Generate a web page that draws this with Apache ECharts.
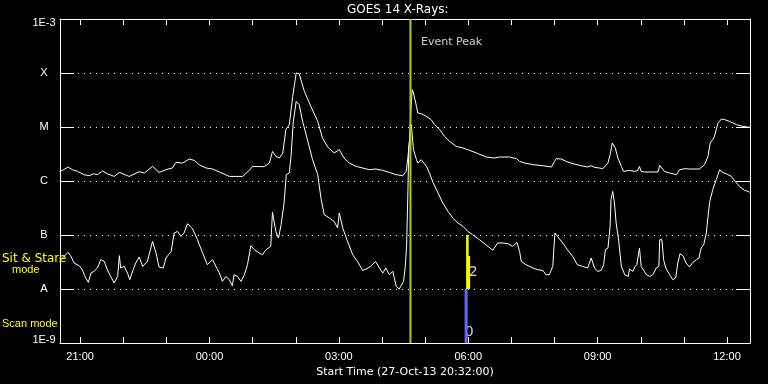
<!DOCTYPE html>
<html><head><meta charset="utf-8">
<script src="https://cdn.jsdelivr.net/npm/echarts@6/dist/echarts.min.js"></script>
<style>html,body{margin:0;padding:0;background:#000;}#c{width:768px;height:384px;}</style>
</head><body><div id="c"></div>
<script>
// Time in hours since 27-Oct-13 00:00 (values > 24 are 28-Oct)
const startHour = 20 + 32 / 60;
const endHour = startHour + 16;
const hourTicks = [21,22,23,24,25,26,27,28,29,30,31,32,33,34,35,36];
const hourLabels = [21,24,27,30,33,36];
// Flux as log10(W/m^2)
const levelTicks = [-9,-8,-7,-6,-5,-4,-3];
const levelNames = ['1E-9','A','B','C','M','X','1E-3'];

// GOES 14 long channel (1-8 A)
const longHours = [20.52,20.59,20.72,20.82,20.94,21.09,21.21,21.32,21.40,21.52,
21.63,21.79,21.91,22.02,22.14,22.37,22.49,22.68,22.83,22.99,
23.14,23.22,23.38,23.53,23.65,23.76,23.92,24.07,24.23,24.46,
24.77,24.92,25.00,25.27,25.39,25.46,25.54,25.62,25.70,25.77,
25.85,25.93,26.01,26.08,26.20,26.35,26.51,26.62,26.74,26.89,
27.01,27.12,27.24,27.40,27.55,27.71,27.86,28.02,28.17,28.33,
28.48,28.56,28.60,28.64,28.67,28.70,28.73,28.80,28.83,28.91,
29.03,29.14,29.22,29.34,29.45,29.57,29.72,29.88,30.03,30.19,
30.42,30.61,30.73,30.96,31.12,31.19,31.31,31.50,31.73,31.93,
32.00,32.04,32.16,32.27,32.43,32.62,32.77,32.85,32.93,33.04,
33.12,33.24,33.29,33.34,33.37,33.41,33.47,33.55,33.60,33.74,
33.86,33.93,33.97,34.01,34.09,34.40,34.44,34.48,34.55,34.67,
34.83,34.90,35.02,35.13,35.36,35.48,35.56,35.61,35.67,35.71,
35.79,35.87,35.95,36.06,36.22,36.37,36.53];
const longLogFlux = [-5.822,-5.804,-5.741,-5.791,-5.822,-5.883,-5.902,-5.865,-5.883,-5.815,
-5.865,-5.915,-5.841,-5.878,-5.915,-5.828,-5.852,-5.730,-5.841,-5.791,
-5.759,-5.656,-5.667,-5.593,-5.619,-5.698,-5.759,-5.778,-5.833,-5.915,
-5.915,-5.804,-5.730,-5.735,-5.667,-5.452,-5.544,-5.574,-5.481,-5.050,
-4.957,-4.433,-4.000,-4.013,-4.341,-4.618,-4.896,-5.204,-5.370,-5.481,
-5.420,-5.574,-5.667,-5.730,-5.759,-5.791,-5.778,-5.804,-5.841,-5.883,
-5.902,-5.822,-5.568,-5.235,-4.680,-4.309,-4.370,-4.618,-4.741,-4.754,
-4.804,-4.865,-4.957,-5.050,-5.174,-5.267,-5.359,-5.389,-5.433,-5.481,
-5.556,-5.574,-5.556,-5.556,-5.587,-5.637,-5.667,-5.698,-5.717,-5.741,
-5.637,-5.587,-5.593,-5.637,-5.680,-5.717,-5.741,-5.717,-5.748,-5.759,
-5.772,-5.667,-5.513,-5.296,-5.285,-5.389,-5.574,-5.730,-5.822,-5.804,
-5.822,-5.804,-5.730,-5.822,-5.833,-5.833,-5.711,-5.698,-5.822,-5.852,
-5.883,-5.791,-5.772,-5.778,-5.778,-5.698,-5.544,-5.296,-5.235,-5.174,
-4.926,-4.852,-4.865,-4.896,-4.957,-4.989,-5.007];

// GOES 14 short channel (0.5-4 A)
const shortHours = [20.52,20.59,20.72,20.78,20.86,20.98,21.05,21.13,21.19,21.25,
21.32,21.40,21.48,21.56,21.63,21.71,21.79,21.87,21.91,21.94,
22.02,22.10,22.15,22.23,22.29,22.37,22.45,22.56,22.68,22.76,
22.83,22.93,22.99,23.11,23.18,23.26,23.34,23.41,23.49,23.61,
23.72,23.84,23.95,24.07,24.15,24.23,24.30,24.38,24.46,24.53,
24.57,24.65,24.73,24.81,24.88,24.96,25.04,25.15,25.23,25.31,
25.42,25.46,25.54,25.60,25.66,25.73,25.78,25.85,25.89,25.94,
26.01,26.08,26.16,26.27,26.39,26.51,26.59,26.66,26.78,26.89,
26.97,27.01,27.09,27.20,27.32,27.43,27.55,27.63,27.74,27.85,
27.94,28.02,28.09,28.17,28.25,28.33,28.40,28.50,28.54,28.57,
28.60,28.62,28.66,28.68,28.73,28.80,28.83,28.91,29.03,29.10,
29.18,29.30,29.41,29.53,29.64,29.76,29.88,29.99,30.10,30.26,
30.41,30.57,30.68,30.72,30.80,30.92,31.03,31.13,31.19,31.23,
31.34,31.50,31.61,31.73,31.80,31.88,31.96,32.01,32.07,32.19,
32.30,32.42,32.53,32.65,32.77,32.85,32.93,33.00,33.08,33.14,
33.18,33.24,33.29,33.31,33.35,33.39,33.43,33.49,33.55,33.63,
33.71,33.74,33.82,33.86,33.91,33.97,34.01,34.07,34.13,34.21,
34.24,34.28,34.36,34.42,34.44,34.49,34.53,34.58,34.67,34.74,
34.81,34.86,34.91,34.98,35.05,35.13,35.21,35.29,35.35,35.40,
35.46,35.52,35.56,35.60,35.67,35.75,35.83,35.90,35.98,36.02,
36.10,36.22,36.33,36.41,36.49,36.53];
const shortLogFlux = [-7.489,-7.426,-7.322,-7.383,-7.519,-7.569,-7.643,-7.796,-7.878,-7.704,
-7.674,-7.611,-7.457,-7.489,-7.643,-7.767,-7.889,-7.767,-7.383,-7.611,
-7.581,-7.704,-7.828,-7.643,-7.519,-7.407,-7.581,-7.489,-7.118,-7.333,
-7.593,-7.611,-7.426,-7.304,-6.963,-6.933,-7.026,-6.963,-6.791,-6.889,
-7.087,-7.333,-7.550,-7.457,-7.581,-7.704,-7.859,-7.767,-7.828,-7.939,
-7.735,-7.767,-7.859,-7.735,-7.550,-7.198,-7.272,-7.333,-7.365,-7.272,
-7.211,-6.581,-6.939,-7.056,-6.809,-6.407,-5.883,-5.852,-5.544,-4.926,
-4.526,-4.587,-4.896,-5.235,-5.605,-5.883,-6.346,-6.624,-6.685,-6.748,
-6.870,-6.593,-6.870,-7.118,-7.365,-7.489,-7.656,-7.630,-7.581,-7.489,
-7.611,-7.704,-7.611,-7.735,-7.674,-7.952,-8.000,-7.859,-7.581,-7.211,
-6.222,-5.420,-5.013,-4.957,-5.420,-5.605,-5.667,-5.605,-5.730,-5.852,
-6.022,-6.222,-6.407,-6.563,-6.685,-6.778,-6.841,-6.933,-6.994,-7.087,
-7.180,-7.281,-7.148,-7.118,-7.148,-7.161,-7.211,-7.137,-7.304,-7.489,
-7.550,-7.611,-7.643,-7.656,-7.735,-7.735,-7.581,-6.963,-7.026,-7.148,
-7.272,-7.396,-7.550,-7.581,-7.611,-7.426,-7.611,-7.674,-7.656,-7.550,
-7.272,-7.241,-6.841,-6.346,-6.193,-6.407,-6.778,-7.118,-7.581,-7.735,
-7.767,-7.630,-7.674,-7.593,-7.550,-7.241,-7.581,-7.656,-7.735,-7.767,
-7.796,-7.735,-7.611,-7.581,-7.087,-7.087,-7.457,-7.611,-7.735,-7.828,
-7.796,-7.519,-7.346,-7.383,-7.519,-7.593,-7.507,-7.457,-7.426,-7.241,
-7.180,-6.963,-6.656,-6.378,-6.161,-5.976,-5.791,-5.841,-5.865,-5.841,
-5.915,-6.037,-6.130,-6.174,-6.193,-6.211];

const eventPeakHour = 28.66;
// instrument mode markers: [hour, fromLevel, toLevel]
const sitStareBar = [29.98, -8, -7];
const sitStareBar2 = [30.02, -8, -7.39];
const scanBar = [29.95, -9, -8];
const annotations = [
  {name: 'Event Peak', value: [28.906, -3.433]},
  {name: '2', value: [30.116, -7.683]},
  {name: '0', value: [30.023, -8.80]}
];
const modeTexts = [
  {text: 'Sit & Stare', level: -7.444, indent: 0, font: 'DejaVu Sans', size: 12},
  {text: 'mode', level: -7.656, indent: 10, font: 'Liberation Sans', size: 11},
  {text: 'Scan mode', level: -8.643, indent: 0, font: 'Liberation Sans', size: 11}
];

const pairs = (xs, ys) => xs.map((x, i) => [x, ys[i]]);
const vbar = b => [[b[0], b[1]], [b[0], b[2]]];
const hh = v => String(Math.round(v) % 24).padStart(2, '0') + ':00';

const chart = echarts.init(document.getElementById('c'), null, {renderer: 'canvas'});
const white = '#ffffff';
const lineSeries = (data, color, width) => ({
  type: 'line', data, showSymbol: false, symbol: 'none', animation: false, silent: true,
  lineStyle: {color, width}, xAxisIndex: 0, yAxisIndex: 0
});

chart.setOption({
  backgroundColor: '#000000',
  animation: false,
  title: {
    text: 'GOES 14 X-Rays:', left: 347, top: 4, padding: 0,
    textStyle: {color: white, fontFamily: 'DejaVu Sans', fontSize: 12, fontWeight: 'normal'}
  },
  grid: {left: 60, right: 18, top: 19, bottom: 41, containLabel: false},
  xAxis: [{
    type: 'value', min: startHour, max: endHour, position: 'bottom',
    axisLine: {show: true, onZero: false, lineStyle: {color: white, width: 1}},
    axisTick: {show: true, inside: true, length: 6, customValues: hourTicks, lineStyle: {color: white}},
    axisLabel: {show: true, customValues: hourLabels, formatter: hh, color: white,
      fontFamily: 'Liberation Sans', fontSize: 11, margin: 8},
    splitLine: {show: false},
    name: 'Start Time (27-Oct-13 20:32:00)', nameLocation: 'middle', nameGap: 20,
    nameTextStyle: {color: white, fontFamily: 'DejaVu Sans', fontSize: 11}
  }, {
    type: 'value', min: startHour, max: endHour, position: 'top',
    axisLine: {show: true, onZero: false, lineStyle: {color: white, width: 1}},
    axisTick: {show: true, inside: true, length: 6, customValues: hourTicks, lineStyle: {color: white}},
    axisLabel: {show: false}, splitLine: {show: false}
  }],
  yAxis: [{
    type: 'value', min: -9, max: -3, interval: 1, position: 'left',
    axisLine: {show: true, onZero: false, lineStyle: {color: white, width: 1}},
    axisTick: {show: true, inside: true, length: 14, lineStyle: {color: white}},
    axisLabel: {show: true, color: white, fontFamily: 'Liberation Sans', fontSize: 11,
      align: 'center', margin: 16,
      formatter: v => {
        const k = Math.round(v);
        const s = levelNames[levelTicks.indexOf(k)] || '';
        if (k === -3) return '{top|' + s + '}';
        if (k === -9) return '{bot|' + s + '}';
        return s;
      },
      rich: {
        top: {color: white, fontFamily: 'Liberation Sans', fontSize: 11, padding: [8, 0, 0, 0]},
        bot: {color: white, fontFamily: 'Liberation Sans', fontSize: 11, padding: [0, 0, 6, 0]}
      }},
    splitLine: {show: true, lineStyle: {color: white, width: 1, type: [1, 5]}}
  }, {
    type: 'value', min: -9, max: -3, interval: 1, position: 'right',
    axisLine: {show: true, onZero: false, lineStyle: {color: white, width: 1}},
    axisTick: {show: true, inside: true, length: 14, lineStyle: {color: white}},
    axisLabel: {show: false}, splitLine: {show: false}
  }],
  series: [
    lineSeries(pairs(longHours, longLogFlux), white, 1),
    lineSeries(pairs(shortHours, shortLogFlux), white, 1),
    lineSeries([[eventPeakHour, -9], [eventPeakHour, -3]], '#a4d400', 2),
    lineSeries(vbar(sitStareBar), '#ffff00', 2.5),
    lineSeries(vbar(sitStareBar2), '#ffff00', 2),
    lineSeries(vbar(scanBar), '#6464ff', 3),
    {
      type: 'scatter', data: annotations.map((a, i) => i === 0
        ? Object.assign({}, a, {label: {align: 'left', fontSize: 11}})
        : a),
      symbolSize: 0, animation: false, silent: true,
      label: {
        show: true, formatter: '{b}', color: white, position: [0, 0],
        align: 'center', verticalAlign: 'middle', fontFamily: 'DejaVu Sans', fontSize: 14
      }
    }
  ]
});

const graphics = modeTexts.map(t => ({
  type: 'text', x: 2 + t.indent, y: chart.convertToPixel({yAxisIndex: 0}, t.level),
  silent: true, z: 10,
  style: {text: t.text, fill: '#ffff00', fontFamily: t.font, fontSize: t.size,
    align: 'left', verticalAlign: 'middle'}
}));
chart.setOption({graphic: graphics});
</script>
</body></html>
